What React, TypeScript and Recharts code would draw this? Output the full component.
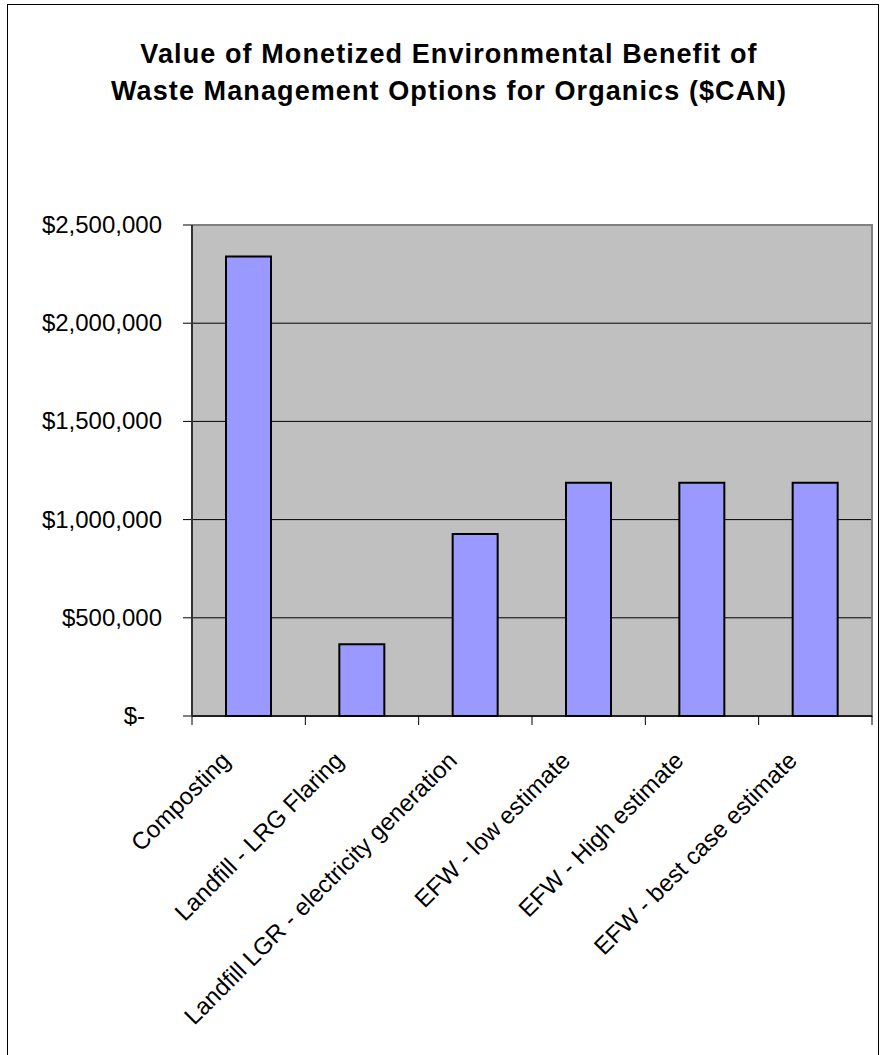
import React from 'react';
import {
    BarChart,
    Bar,
    XAxis,
    YAxis,
    CartesianGrid,
    ReferenceArea,
} from 'recharts';

const categories = [
    'Composting',
    'Landfill - LRG Flaring',
    'Landfill LGR - electricity generation',
    'EFW - low estimate',
    'EFW - High estimate',
    'EFW - best case estimate',
];

const benefitValues = [2340000, 365000, 927000, 1188000, 1188000, 1188000];

const yTicks = [0, 500000, 1000000, 1500000, 2000000, 2500000];

const titleLines = [
    'Value of Monetized Environmental Benefit of',
    'Waste Management Options for Organics ($CAN)',
];

const data = categories.map((name, i) => ({ name, value: benefitValues[i] }));

const FONT = '"Liberation Sans", Arial, sans-serif';
const CHART_W = 881;
const CHART_H = 1055;
const MARGIN = { top: 225, right: 9, left: 0, bottom: 0 };
const Y_AXIS_W = 192;
const PLOT_W = CHART_W - MARGIN.right - MARGIN.left - Y_AXIS_W;
const BAND = PLOT_W / categories.length;

const formatMoney = (v: number) =>
    v === 0 ? '$-' : '$' + v.toLocaleString('en-US');

const YTick = (props: any) => {
    const { x, y, payload } = props;
    const isZero = payload.value === 0;
    return (
        <g>
            <line x1={x + 21} x2={x + 29} y1={y} y2={y} stroke="#000" strokeWidth={1} />
            <text
                x={isZero ? x - 17 : x}
                y={y}
                dy={8}
                textAnchor="end"
                fontSize={24}
                fontFamily={FONT}
                fill="#000"
            >
                {formatMoney(payload.value)}
            </text>
        </g>
    );
};

const XTick = (props: any) => {
    const { x, y, payload, index } = props;
    const left = x - BAND / 2;
    const right = x + BAND / 2;
    const ax = x - 17;
    const ay = y + 46;
    return (
        <g>
            <line x1={left} x2={left} y1={y} y2={y + 9} stroke="#000" strokeWidth={1} />
            {index === categories.length - 1 && (
                <line x1={right} x2={right} y1={y} y2={y + 9} stroke="#000" strokeWidth={1} />
            )}
            <text
                x={ax}
                y={ay}
                textAnchor="end"
                transform={`rotate(-45 ${ax} ${ay})`}
                fontSize={24}
                fontFamily={FONT}
                fill="#000"
            >
                {payload.value}
            </text>
        </g>
    );
};

const App: React.FC = () => {
    return (
        <div
            style={{
                position: 'fixed',
                left: 0,
                top: 0,
                width: CHART_W,
                height: CHART_H,
                overflow: 'hidden',
                background: '#fff',
            }}
        >
            <div
                style={{
                    position: 'absolute',
                    left: 7,
                    top: 4,
                    width: 872,
                    height: 1100,
                    border: '1.5px solid #000',
                    boxSizing: 'border-box',
                }}
            />
            <div
                style={{
                    position: 'absolute',
                    left: 0,
                    top: 36,
                    width: 898,
                    textAlign: 'center',
                    fontFamily: FONT,
                    fontWeight: 'bold',
                    fontSize: 27,
                    letterSpacing: 1.1,
                    lineHeight: '37px',
                    color: '#000',
                }}
            >
                {titleLines.map((t) => (
                    <div key={t}>{t}</div>
                ))}
            </div>
            <div style={{ position: 'absolute', left: 0, top: 0 }}>
                <BarChart
                    width={CHART_W}
                    height={CHART_H}
                    data={data}
                    margin={MARGIN}
                    barCategoryGap="30%"
                >
                    <CartesianGrid
                        vertical={false}
                        stroke="#000"
                        strokeWidth={1}
                        fill="#C0C0C0"
                        fillOpacity={1}
                    />
                    <ReferenceArea
                        y1={0}
                        y2={2500000}
                        fill="none"
                        stroke="#808080"
                        strokeWidth={2}
                    />
                    <XAxis
                        dataKey="name"
                        interval={0}
                        height={CHART_H - 716}
                        tickLine={false}
                        tickSize={0}
                        tickMargin={0}
                        axisLine={{ stroke: '#000', strokeWidth: 1.5 }}
                        tick={<XTick />}
                    />
                    <YAxis
                        width={Y_AXIS_W}
                        domain={[0, 2500000]}
                        ticks={yTicks}
                        interval={0}
                        tickLine={false}
                        tickSize={0}
                        tickMargin={30}
                        axisLine={{ stroke: '#333', strokeWidth: 2 }}
                        tick={<YTick />}
                    />
                    <Bar
                        dataKey="value"
                        fill="#9999FF"
                        stroke="#000"
                        strokeWidth={2}
                        isAnimationActive={false}
                    />
                </BarChart>
            </div>
        </div>
    );
};

export default App;
